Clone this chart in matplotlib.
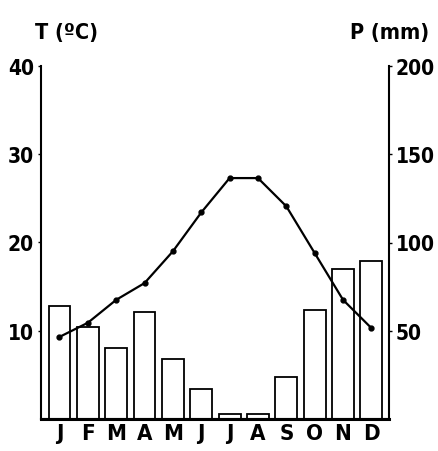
import matplotlib.pyplot as plt
import numpy as np

# Climate chart data
months = ['J', 'F', 'M', 'A', 'M', 'J', 'J', 'A', 'S', 'O', 'N', 'D']
precip = [64, 52, 40, 60.5, 34, 17, 3, 3, 24, 62, 85, 89.5]   # mm
temp = [9.3, 10.9, 13.5, 15.4, 19.0, 23.4, 27.3, 27.3, 24.1, 18.8, 13.5, 10.3]  # degC
t_ticks = [10, 20, 30, 40]
p_ticks = [50, 100, 150, 200]

font = dict(family='DejaVu Sans', weight='bold', stretch='condensed')

fig = plt.figure(figsize=(4.38, 4.52), dpi=100)
ax = fig.add_axes([41/438, 32/452, 348/438, 353/452])
ax2 = ax.twinx()

x = np.arange(len(months))
ax2.bar(x, precip, width=0.77, facecolor='white', edgecolor='black', linewidth=1.3, zorder=1)
ax2.set_ylim(0, 200)

ax.set_zorder(ax2.get_zorder() + 1)
ax.patch.set_visible(False)
ax.plot(x, temp, color='black', linewidth=1.6, marker='o', markersize=3.5, zorder=3)
ax.set_ylim(0, 40)
ax.set_xlim(-0.65, 11.62)

for a in (ax, ax2):
    a.spines['top'].set_visible(False)
    for s in a.spines.values():
        s.set_linewidth(1.5)
ax.spines['right'].set_visible(False)
ax2.spines['left'].set_visible(False)
ax.spines['bottom'].set_linewidth(2.2)

ax.set_xticks(x)
ax.set_xticklabels(months, fontsize=16, **font)
ax.tick_params(axis='x', length=0, pad=3)
ax.set_yticks(t_ticks)
ax.set_yticklabels([str(t) for t in t_ticks], fontsize=15, **font)
ax.tick_params(axis='y', length=2, width=1, pad=3)
ax2.set_yticks(p_ticks)
ax2.set_yticklabels([str(p) for p in p_ticks], fontsize=15, **font)
ax2.tick_params(axis='y', length=2, width=1, pad=3)

fig.text(35/438, 1 - 33/452, 'T (ºC)', fontsize=15.5, va='center', ha='left', **font)
fig.text(429/438, 1 - 33/452, 'P (mm)', fontsize=15.5, va='center', ha='right', **font)

fig.savefig('out.png', dpi=100, facecolor='white')
